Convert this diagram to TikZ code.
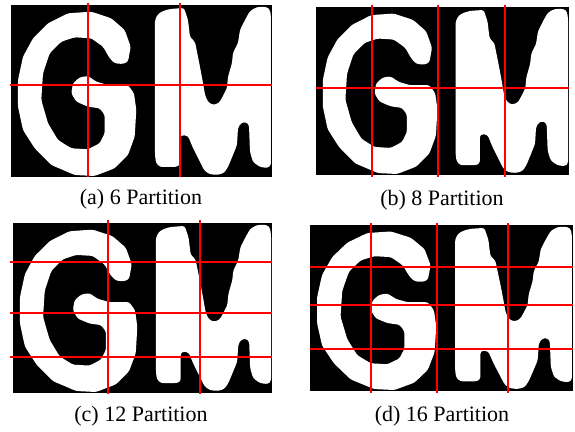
\documentclass[tikz,border=0pt]{standalone}
\usepackage{fontspec}
\setmainfont{Liberation Serif}
\usetikzlibrary{calc}
\tikzset{
grade/.style = {red, line width=1.3pt}
        }
\tikzset{
letra/.style = {fill=white, rounded corners=1.2pt},
legenda/.style = {font=\fontsize{11}{13}\selectfont, inner sep=0pt}
        }
% letras G e M no quadro 261 x 172 (pixels)
\newcommand{\letrasGM}{
    \fill[letra] (117,56.7) -- (119.7,41.7) -- (113.7,25) -- (100.3,13.3) -- (80.3,6.7) -- (57,8.3)
        -- (37,18.3) -- (22,33.3) -- (12,51.7) -- (7,75) -- (7,101.7) -- (12,125) -- (23.7,143.3)
        -- (40.3,160) -- (63.7,170) -- (83.7,171) -- (103.7,163.3) -- (117,150) -- (123.7,131.7)
        -- (125.3,105) -- (123,88.3) -- (117,80) -- (97,80) -- (85.3,76.7) -- (77,71) -- (68.7,72.3)
        -- (62,78.3) -- (60.3,88.3) -- (65.3,96.7) -- (77,101.7) -- (88.7,103.3) -- (93.7,110)
        -- (93.7,128.3) -- (88.7,138.3) -- (77,144.3) -- (60.3,143.3) -- (47,135) -- (37,118.3)
        -- (30.3,95) -- (32,68.3) -- (38.7,48.3) -- (50.3,36.7) -- (63.7,32.3) -- (80.3,33.3)
        -- (92,41.7) -- (98.7,53.3) -- (103.7,58.3) -- (112,59) -- cycle;
    \fill[letra] (144,15) -- (147,9) -- (152,6) -- (159,4) -- (173,3) -- (177,15) -- (179,32)
        -- (184,37) -- (187,52) -- (189,62) -- (192,78) -- (194,90) -- (197,97) -- (202,100)
        -- (208,98) -- (211,93) -- (216,83) -- (217,72) -- (221,58) -- (222,48) -- (227,38)
        -- (229,25) -- (234,15) -- (239,6) -- (246,2) -- (256,2) -- (259,5) -- (260,12)
        -- (260,160) -- (257,163) -- (249,162) -- (242,157) -- (239,147) -- (238,120) -- (235,117)
        -- (230,118) -- (227,123) -- (226,140) -- (222,150) -- (217,162) -- (213,168) -- (206,170)
        -- (198,169) -- (193,165) -- (189,157) -- (182,143) -- (177,131) -- (171,130) -- (169,132)
        -- (169,160) -- (165,162) -- (149,162) -- (145,158) -- (144,150) -- cycle;
}
% quadro preto com as letras: canto, largura, altura
\newcommand{\quadro}[4]{
    \begin{scope}[shift={(#1,#2)},xscale=#3/261,yscale=#4/172]
        \fill[black] (0,0) rectangle (261,172);
        \letrasGM
    \end{scope}
}

\begin{document}
\begin{tikzpicture}[x=0.5pt,y=-0.5pt]
    \useasboundingbox (0,0) rectangle (575,432);

    % (a) 6 particoes
    \quadro{11}{5}{261}{172}
    \foreach \xv in {88,180}
        \draw[grade] (\xv,3) -- (\xv,177);
    \draw[grade] (10,85) -- (272,85);
    \node[legenda] (legA) at (141,199) {(a) 6 Partition};

    % (b) 8 particoes
    \quadro{316}{7}{253}{168}
    \foreach \xv in {372,438,505}
        \draw[grade] (\xv,5) -- (\xv,177);
    \draw[grade] (316,88) -- (569,88);
    \node[legenda] (legB) at (442,200) {(b) 8 Partition};

    % (c) 12 particoes
    \quadro{13}{223}{259}{170}
    \foreach \xv in {108,200}
        \draw[grade] (\xv,220) -- (\xv,394);
    \foreach \yv in {262,313,357}
        \draw[grade] (10,\yv) -- (272,\yv);
    \node[legenda] (legC) at (141,416) {(c) 12 Partition};

    % (d) 16 particoes
    \quadro{310}{225}{263}{166}
    \foreach \xv in {371,437,508}
        \draw[grade] (\xv,223) -- (\xv,393);
    \foreach \yv in {267,305,349}
        \draw[grade] (310,\yv) -- (573,\yv);
    \node[legenda] (legD) at (442,416) {(d) 16 Partition};
\end{tikzpicture}
\end{document}
